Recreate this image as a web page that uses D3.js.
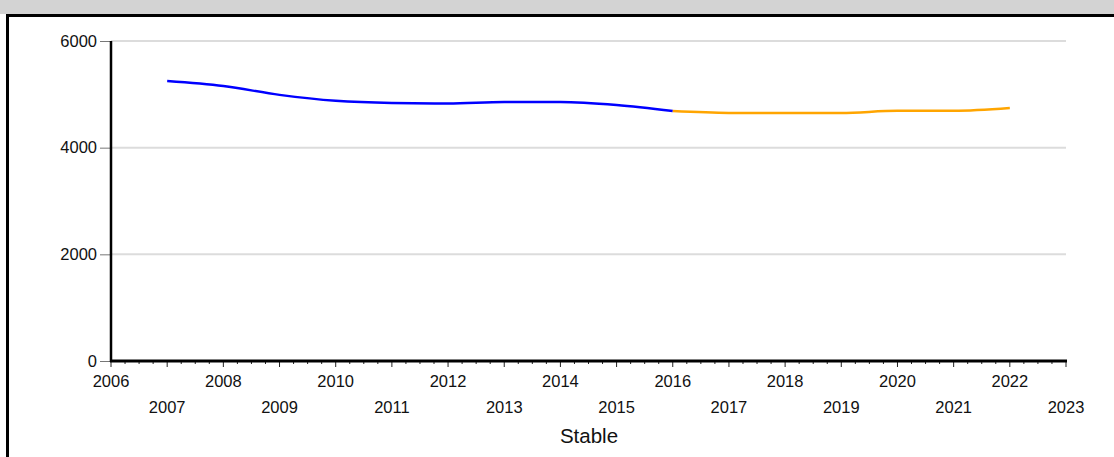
<!DOCTYPE html>
<html><head><meta charset="utf-8">
<script src="https://cdn.jsdelivr.net/npm/d3@7"></script>
<style>body{margin:0;background:#fff;}svg{display:block;font-family:"Liberation Sans",Arial,sans-serif;}</style>
</head><body>
<svg id="c" width="1114" height="457"></svg>
<script>
const histYears = [2007,2008,2009,2010,2011,2012,2013,2014,2015,2016];
const histValues = [5250,5156,4990,4878,4838,4830,4856,4856,4800,4688];
const foreYears = [2016,2017,2018,2019,2020,2021,2022];
const foreValues = [4688,4652,4648,4650,4690,4690,4742];
const yTicks = [0,2000,4000,6000];
const xTickYears = d3.range(2006,2024);
const xTitle = "Stable";

const svg = d3.select("#c");
// frame
svg.append("rect").attr("x",0).attr("y",0).attr("width",1114).attr("height",14).attr("fill","#d3d3d3");
svg.append("rect").attr("x",6).attr("y",14).attr("width",1108).attr("height",3).attr("fill","#000");
svg.append("rect").attr("x",6).attr("y",14).attr("width",3).attr("height",443).attr("fill","#000");

const x = d3.scaleLinear().domain([2006,2023]).range([111,1066]);
const y = d3.scaleLinear().domain([0,6000]).range([361,41]);

// grid
svg.append("g").selectAll("line").data(yTicks.filter(d=>d>0)).join("line")
  .attr("x1",111).attr("x2",1066).attr("y1",d=>y(d)).attr("y2",d=>y(d))
  .attr("stroke","#dcdcdc").attr("stroke-width",2);

// y axis
const ya = svg.append("g").attr("transform","translate(111,0)")
  .call(d3.axisLeft(y).tickValues(yTicks).tickSize(11).tickSizeOuter(0).tickFormat(d3.format("d")));
ya.select(".domain").remove();
ya.selectAll(".tick line").attr("stroke","#777");
ya.selectAll(".tick text").attr("font-size",16.5).attr("fill","#111").attr("x",-14)
  .attr("font-family","'Liberation Sans',Arial,sans-serif");
svg.append("line").attr("x1",111).attr("x2",111).attr("y1",41).attr("y2",362)
  .attr("stroke","#000").attr("stroke-width",2.5);

// x minor ticks
const minor = d3.range(2006,2023.001,0.25);
svg.append("g").selectAll("line").data(minor).join("line")
  .attr("x1",d=>x(d)).attr("x2",d=>x(d)).attr("y1",361).attr("y2",d=>Number.isInteger(d)?367:364)
  .attr("stroke","#222").attr("stroke-width",1);
svg.append("line").attr("x1",110).attr("x2",1067).attr("y1",361).attr("y2",361)
  .attr("stroke","#000").attr("stroke-width",3);

// x labels
svg.append("g").selectAll("text").data(xTickYears).join("text")
  .attr("x",d=>x(d)).attr("y",d=>d%2===0?387:413)
  .attr("text-anchor","middle").attr("font-size",16.5).attr("fill","#111")
  .text(d=>d);

svg.append("text").attr("x",589).attr("y",443).attr("text-anchor","middle")
  .attr("font-size",20.5).attr("fill","#111").text(xTitle);

const line = d3.line().x(d=>x(d[0])).y(d=>y(d[1])).curve(d3.curveMonotoneX);
svg.append("path").datum(histYears.map((d,i)=>[d,histValues[i]]))
  .attr("d",line).attr("fill","none").attr("stroke","#0000ff").attr("stroke-width",2.5);
svg.append("path").datum(foreYears.map((d,i)=>[d,foreValues[i]]))
  .attr("d",line).attr("fill","none").attr("stroke","#ffa500").attr("stroke-width",2.5);
</script>
</body></html>
